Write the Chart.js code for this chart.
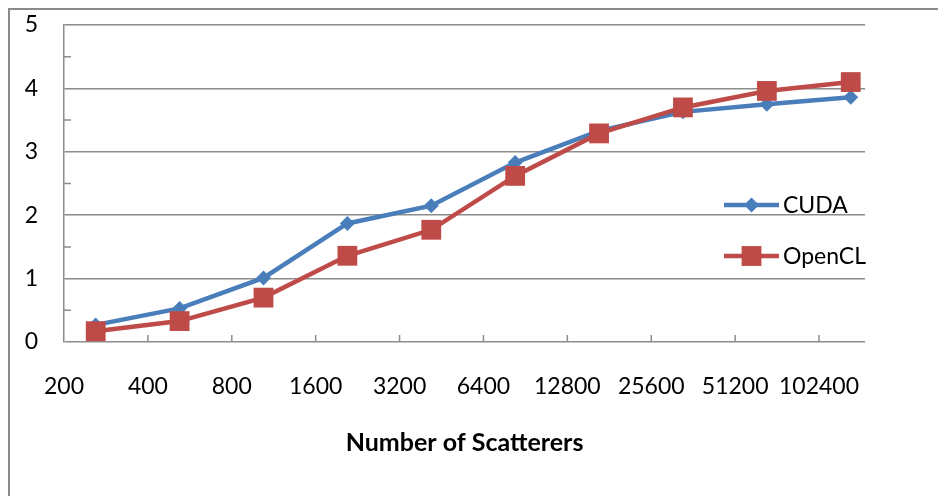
<!DOCTYPE html>
<html>
<head>
<meta charset="utf-8">
<script src="https://cdn.jsdelivr.net/npm/chart.js@4.4.1/dist/chart.umd.min.js"></script>
<style>
  html, body { margin: 0; padding: 0; background: #fff; overflow: hidden; }
  #frame { position: absolute; left: 8px; top: 8px; width: 1000px; height: 600px; border: 2px solid #8a8a8a; }
  #wrap { position: absolute; left: 0; top: 0; width: 938px; height: 496px; }
</style>
</head>
<body>
<div id="frame"></div>
<div id="wrap"><canvas id="myChart" width="938" height="496"></canvas></div>
<script>
  // data
  const xLabels = ['200', '400', '800', '1600', '3200', '6400', '12800', '25600', '51200', '102400'];
  const cuda = [0.27, 0.53, 1.01, 1.87, 2.15, 2.83, 3.33, 3.63, 3.75, 3.86];
  const opencl = [0.17, 0.33, 0.70, 1.36, 1.77, 2.62, 3.29, 3.70, 3.96, 4.10];
  const yTicks = [0, 1, 2, 3, 4, 5];

  const BLUE = '#4a7ebb';
  const RED = '#be4b48';
  const GRID = '#8c8c8c';
  const FONT = 'Lato';
  // labels sit on the category boundaries, points a bit to the right of them
  const SHIFT = 0.378;

  const toPts = arr => arr.map((v, i) => ({ x: i, y: v }));

  // small tick marks and the legend, drawn on the canvas
  const extras = {
    id: 'extras',
    afterDatasetsDraw(chart) {
      const { ctx, chartArea, scales } = chart;
      const x = scales.x, y = scales.y;
      ctx.save();
      ctx.strokeStyle = GRID;
      ctx.lineWidth = 1.5;
      ctx.beginPath();
      for (let k = 1; k < xLabels.length; k++) {
        const px = x.getPixelForValue(k - SHIFT);
        ctx.moveTo(px, chartArea.bottom);
        ctx.lineTo(px, chartArea.bottom - 7);
      }
      for (let v = 0.5; v < 5; v += 1) {
        const py = y.getPixelForValue(v);
        ctx.moveTo(chartArea.left, py);
        ctx.lineTo(chartArea.left + 7, py);
      }
      ctx.stroke();

      // legend
      const lx = chartArea.right - 141;
      chart.data.datasets.forEach((ds, i) => {
        const ly = chartArea.top + 180 + i * 51;
        ctx.strokeStyle = ds.borderColor;
        ctx.lineWidth = ds.borderWidth;
        ctx.beginPath();
        ctx.moveTo(lx, ly);
        ctx.lineTo(lx + 55, ly);
        ctx.stroke();
        ctx.fillStyle = ds.backgroundColor;
        ctx.strokeStyle = ds.borderColor;
        Chart.helpers.drawPoint(ctx, { pointStyle: ds.pointStyle, radius: ds.pointRadius, borderWidth: 0, rotation: 0 }, lx + 27.5, ly);
        ctx.fillStyle = '#000';
        ctx.font = '23px ' + FONT;
        ctx.textBaseline = 'middle';
        ctx.textAlign = 'left';
        ctx.fillText(ds.label, lx + 59, ly + 1);
      });
      ctx.restore();
    }
  };

  const chart1 = document.getElementById('myChart').getContext('2d');
  new Chart(chart1, {
    type: 'line',
    data: {
      datasets: [{
        label: 'CUDA',
        data: toPts(cuda),
        borderColor: BLUE,
        backgroundColor: BLUE,
        borderWidth: 4.5,
        pointStyle: 'rectRot',
        pointRadius: 7.5,
        pointBorderWidth: 0,
        order: 1
      }, {
        label: 'OpenCL',
        data: toPts(opencl),
        borderColor: RED,
        backgroundColor: RED,
        borderWidth: 4.5,
        pointStyle: 'rect',
        pointRadius: 14,
        pointBorderWidth: 0,
        order: 0
      }]
    },
    options: {
      responsive: false,
      animation: false,
      layout: { padding: { left: 0, top: 25, right: 73, bottom: 0 } },
      plugins: { legend: { display: false }, tooltip: { enabled: false } },
      scales: {
        x: {
          type: 'linear',
          min: -SHIFT,
          max: 9.17,
          afterBuildTicks: s => { s.ticks = xLabels.map((_, k) => ({ value: k - SHIFT })); },
          afterFit: s => { s.height = 154; },
          grid: { display: false, drawTicks: false },
          border: { display: false },
          ticks: {
            autoSkip: false,
            maxRotation: 0,
            padding: 31,
            color: '#000',
            font: { family: FONT, size: 23 },
            callback: (v, i) => xLabels[i]
          },
          title: {
            display: true,
            text: 'Number of Scatterers',
            color: '#000',
            font: { family: FONT, size: 25, weight: 'bold' },
            padding: { top: 0, bottom: 38 }
          }
        },
        y: {
          min: 0,
          max: 5,
          afterBuildTicks: s => { s.ticks = yTicks.map(v => ({ value: v })); },
          afterFit: s => { s.width = 64; s.paddingTop = 0; s.paddingBottom = 0; },
          grid: { color: GRID, lineWidth: 1.5, drawTicks: false },
          border: { display: true, color: GRID, width: 1.5 },
          ticks: {
            padding: 26,
            color: '#000',
            font: { family: FONT, size: 23 }
          }
        }
      }
    },
    plugins: [extras]
  });
</script>
</body>
</html>
